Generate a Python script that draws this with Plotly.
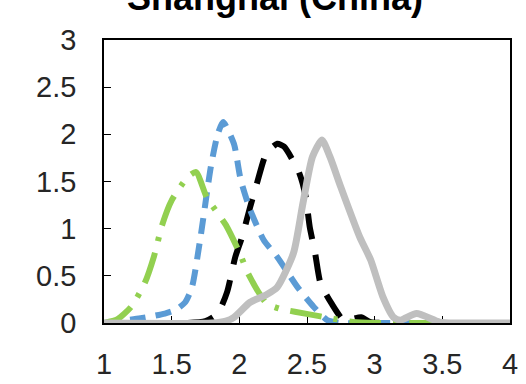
import plotly.graph_objects as go

# Data
green_x = [1.0, 1.1, 1.2, 1.3, 1.37, 1.43, 1.5, 1.62, 1.68, 1.76, 1.9, 2.0, 2.07, 2.2, 2.3, 2.41, 2.6, 2.84, 3.0, 3.5, 4.0]
green_y = [0, 0.04, 0.17, 0.42, 0.71, 1.04, 1.3, 1.55, 1.6, 1.33, 1.04, 0.75, 0.51, 0.21, 0.15, 0.12, 0.07, 0.01, 0, 0, 0]

blue_x = [1.0, 1.27, 1.45, 1.53, 1.6, 1.65, 1.71, 1.79, 1.84, 1.88, 1.96, 2.01, 2.08, 2.18, 2.28, 2.43, 2.55, 2.65, 2.75, 3.0, 4.0]
blue_y = [0, 0.05, 0.1, 0.14, 0.22, 0.38, 0.88, 1.66, 2.0, 2.13, 1.9, 1.52, 1.2, 0.88, 0.7, 0.38, 0.17, 0.03, 0, 0, 0]

black_x = [1.0, 1.6, 1.75, 1.84, 1.91, 1.97, 2.02, 2.08, 2.13, 2.2, 2.28, 2.33, 2.44, 2.49, 2.52, 2.56, 2.6, 2.68, 2.77, 2.83, 2.9, 2.97, 3.1, 4.0]
black_y = [0, 0, 0.02, 0.1, 0.33, 0.7, 0.91, 1.23, 1.48, 1.8, 1.9, 1.87, 1.6, 1.34, 1.02, 0.74, 0.42, 0.21, 0.03, 0.04, 0.06, 0.01, 0, 0]

gray_x = [1.0, 1.8, 1.9, 1.96, 2.08, 2.2, 2.28, 2.4, 2.47, 2.54, 2.61, 2.67, 2.75, 2.89, 2.97, 3.06, 3.14, 3.19, 3.31, 3.48, 3.6, 4.0]
gray_y = [0, 0, 0.02, 0.06, 0.22, 0.3, 0.38, 0.74, 1.27, 1.76, 1.94, 1.76, 1.44, 0.91, 0.67, 0.28, 0.06, 0.03, 0.1, 0.01, 0, 0]

title_text = "Shanghai (China)"
x_ticks = [1, 1.5, 2, 2.5, 3, 3.5, 4]
y_ticks = [0, 0.5, 1, 1.5, 2, 2.5, 3]

fig = go.Figure()
fig.add_trace(go.Scatter(x=black_x, y=black_y, mode="lines",
                         line=dict(color="#000000", width=6, dash="26px,16px", shape="spline", smoothing=0.6)))
fig.add_trace(go.Scatter(x=blue_x, y=blue_y, mode="lines",
                         line=dict(color="#5B9BD5", width=6, dash="16px,10px", shape="spline", smoothing=0.6)))
fig.add_trace(go.Scatter(x=green_x, y=green_y, mode="lines",
                         line=dict(color="#92D050", width=6, dash="32px,12px,4px,12px", shape="spline", smoothing=0.6)))
fig.add_trace(go.Scatter(x=gray_x, y=gray_y, mode="lines",
                         line=dict(color="#BFBFBF", width=7, shape="spline", smoothing=0.6)))

axis_font = dict(family="Liberation Sans, Arial, sans-serif", size=29, color="#262626")

fig.update_layout(
    width=526, height=384,
    margin=dict(l=104, r=16, t=40, b=61),
    paper_bgcolor="white", plot_bgcolor="white",
    showlegend=False,
    xaxis=dict(range=[1, 4], tickvals=x_ticks, ticktext=[f"{v:g}" for v in x_ticks],
               showgrid=False, zeroline=False, showline=True, linecolor="black", linewidth=1.5,
               mirror=True, ticks="inside", ticklen=7, tickcolor="black", tickfont=axis_font,
               ticklabelstandoff=14, layer="below traces", automargin=False),
    yaxis=dict(range=[0, 3], tickvals=y_ticks, ticktext=[f"{v:g}" for v in y_ticks],
               showgrid=False, zeroline=False, showline=True, linecolor="black", linewidth=1.5,
               mirror=True, ticks="inside", ticklen=7, tickcolor="black", tickfont=axis_font,
               ticklabelstandoff=20, layer="below traces", automargin=False),
    annotations=[dict(text="<b>" + title_text + "</b>", xref="paper", yref="paper",
                      x=0.42, y=1.072, xanchor="center", yanchor="bottom", showarrow=False,
                      font=dict(family="Liberation Sans, Arial, sans-serif", size=36, color="#000000"))],
)

fig.write_html("out.html")
